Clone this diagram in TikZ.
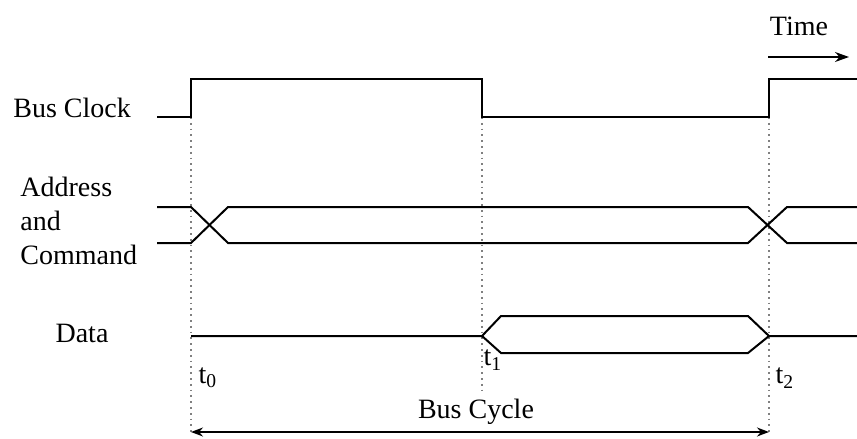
\documentclass[tikz,border=0pt]{standalone}
\usepackage{fontspec}
\setmainfont{Liberation Serif}
\usetikzlibrary{arrows.meta}

\begin{document}
\begin{tikzpicture}[
  x=0.5pt, y=-0.5pt,
  signal/.style={line width=1pt, line join=miter},
  guide/.style={draw=gray, dotted, line width=0.9pt},
  lbl/.style={font=\fontsize{14}{17}\selectfont, inner sep=0pt},
  arrow/.style={{Stealth[length=6pt,width=4.5pt]}-{Stealth[length=6pt,width=4.5pt]}, line width=0.8pt},
  timearrow/.style={-{Stealth[length=7pt,width=5pt]}, line width=0.8pt}
]
\useasboundingbox (0,0) rectangle (857,439);

% signal names
\node[lbl, anchor=west] (clk) at (13,108) {Bus Clock};
\node[lbl, anchor=west, align=left] (addr) at (20,221) {Address\\and\\Command};
\node[lbl] (data) at (82,333) {Data};

% edge instants
\coordinate (top0) at (191,117);
\coordinate (top1) at (482,117);
\coordinate (top2) at (769,117);
\coordinate (bot0) at (191,432);
\coordinate (bot1) at (482,392);
\coordinate (bot2) at (769,432);

% dotted guides
\draw[guide] (top0) -- (bot0);
\draw[guide] (top1) -- (bot1);
\draw[guide] (top2) -- (bot2);

% bus clock
\draw[signal] (157,117) -- (191,117) -- (191,79) -- (482,79) -- (482,117)
  -- (769,117) -- (769,79) -- (857,79);

% address and command
\draw[signal] (157,207) -- (191,207) -- (228,243) -- (748,243) -- (787,207) -- (857,207);
\draw[signal] (157,243) -- (191,243) -- (228,207) -- (748,207) -- (787,243) -- (857,243);

% data
\draw[signal] (191,336) -- (482,336) -- (501,316) -- (748,316) -- (769,336) -- (857,336);
\draw[signal] (482,336) -- (501,353) -- (748,353) -- (769,336);

% instants
\node[lbl] (t0) at (208,378) {t\textsubscript{0}};
\node[lbl] (t1) at (493,360) {t\textsubscript{1}};
\node[lbl] (t2) at (785,378) {t\textsubscript{2}};

% bus cycle
\node[lbl] (cycle) at (476,412) {Bus Cycle};
\draw[arrow] (bot0) -- (bot2);

% time direction
\node[lbl] (time) at (799,26) {Time};
\coordinate (tstart) at (768,57);
\coordinate (tend) at (849,57);
\draw[timearrow] (tstart) -- (tend);

\end{tikzpicture}
\end{document}
